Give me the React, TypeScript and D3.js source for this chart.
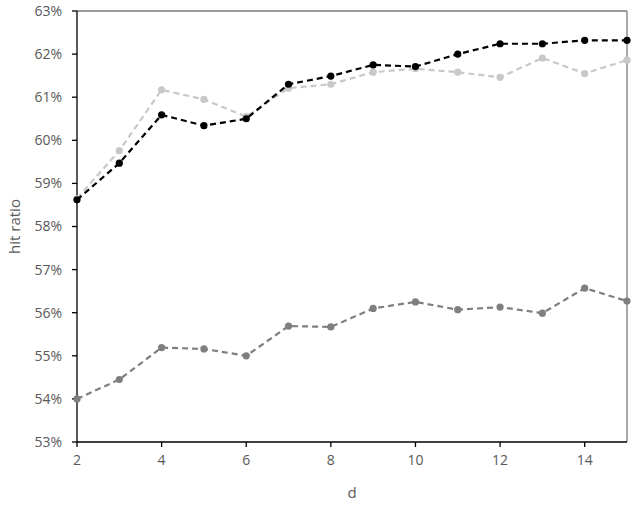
import React from "react";
import * as d3 from "d3";

// d values
const dValues = [2, 3, 4, 5, 6, 7, 8, 9, 10, 11, 12, 13, 14, 15];

// hit ratio (%) per series
const blackSeries = [58.62, 59.47, 60.59, 60.34, 60.5, 61.3, 61.49, 61.75, 61.71, 62.0, 62.24, 62.24, 62.32, 62.32];
const lightSeries = [58.65, 59.76, 61.17, 60.95, 60.55, 61.21, 61.3, 61.58, 61.66, 61.58, 61.46, 61.91, 61.55, 61.86];
const darkSeries = [54.0, 54.45, 55.19, 55.16, 55.0, 55.69, 55.67, 56.1, 56.25, 56.07, 56.13, 55.99, 56.57, 56.27];

const xTicks = [2, 4, 6, 8, 10, 12, 14];
const yTicks = [53, 54, 55, 56, 57, 58, 59, 60, 61, 62, 63];

const width = 636;
const height = 507;
const margin = { top: 11, right: 9, bottom: 65, left: 77 };
const font = "'Open Sans', 'Liberation Sans', sans-serif";
const textColor = "#595959";

export default function App() {
  const x = d3
    .scaleLinear()
    .domain([2, 15])
    .range([margin.left, width - margin.right]);
  const y = d3
    .scaleLinear()
    .domain([53, 63])
    .range([height - margin.bottom, margin.top]);

  const line = d3
    .line<number>()
    .x((_, i) => x(dValues[i]))
    .y((v) => y(v));

  const series = [
    { name: "dark", values: darkSeries, color: "#7f7f7f" },
    { name: "light", values: lightSeries, color: "#c8c8c8" },
    { name: "black", values: blackSeries, color: "#000000" },
  ];

  const x0 = margin.left;
  const x1 = width - margin.right;
  const y0 = height - margin.bottom;
  const y1 = margin.top;

  return (
    <svg
      width={width}
      height={height}
      style={{ position: "absolute", left: 0, top: 0, background: "#fff" }}
    >
      {/* frame: top and right in grey */}
      <line x1={x0} x2={x1} y1={y1} y2={y1} stroke="#7a7a7a" strokeWidth={1.3} />
      <line x1={x1} x2={x1} y1={y1} y2={y0} stroke="#7a7a7a" strokeWidth={1.3} />

      {/* y axis */}
      <g fontFamily={font} fontSize={14} fill={textColor}>
        {yTicks.map((t) => (
          <g key={t}>
            <line x1={x0 - 5} x2={x0} y1={y(t)} y2={y(t)} stroke="#000" strokeWidth={1.3} />
            <text x={x0 - 15} y={y(t)} dy="0.35em" textAnchor="end">
              {t}%
            </text>
          </g>
        ))}
      </g>
      <line x1={x0} x2={x0} y1={y1} y2={y0} stroke="#000" strokeWidth={1.3} />

      {/* x axis */}
      <g fontFamily={font} fontSize={14} fill={textColor}>
        {xTicks.map((t) => (
          <g key={t}>
            <line x1={x(t)} x2={x(t)} y1={y0} y2={y0 + 5} stroke="#000" strokeWidth={1.3} />
            <text x={x(t)} y={y0 + 23} textAnchor="middle">
              {t}
            </text>
          </g>
        ))}
      </g>
      <line x1={x0} x2={x1} y1={y0} y2={y0} stroke="#000" strokeWidth={1.3} />

      {/* axis titles */}
      <text
        x={(x0 + x1) / 2}
        y={y0 + 56}
        textAnchor="middle"
        fontFamily={font}
        fontSize={15}
        fill={textColor}
      >
        d
      </text>
      <text
        transform={`translate(20, ${(y0 + y1) / 2}) rotate(-90)`}
        textAnchor="middle"
        fontFamily={font}
        fontSize={15}
        fill={textColor}
      >
        hit ratio
      </text>

      {/* series */}
      {series.map((s) => (
        <g key={s.name}>
          <path
            d={line(s.values) || ""}
            fill="none"
            stroke={s.color}
            strokeWidth={2.2}
            strokeDasharray="6,4"
          />
          {s.values.map((v, i) => (
            <circle key={i} cx={x(dValues[i])} cy={y(v)} r={3.6} fill={s.color} />
          ))}
        </g>
      ))}
    </svg>
  );
}
